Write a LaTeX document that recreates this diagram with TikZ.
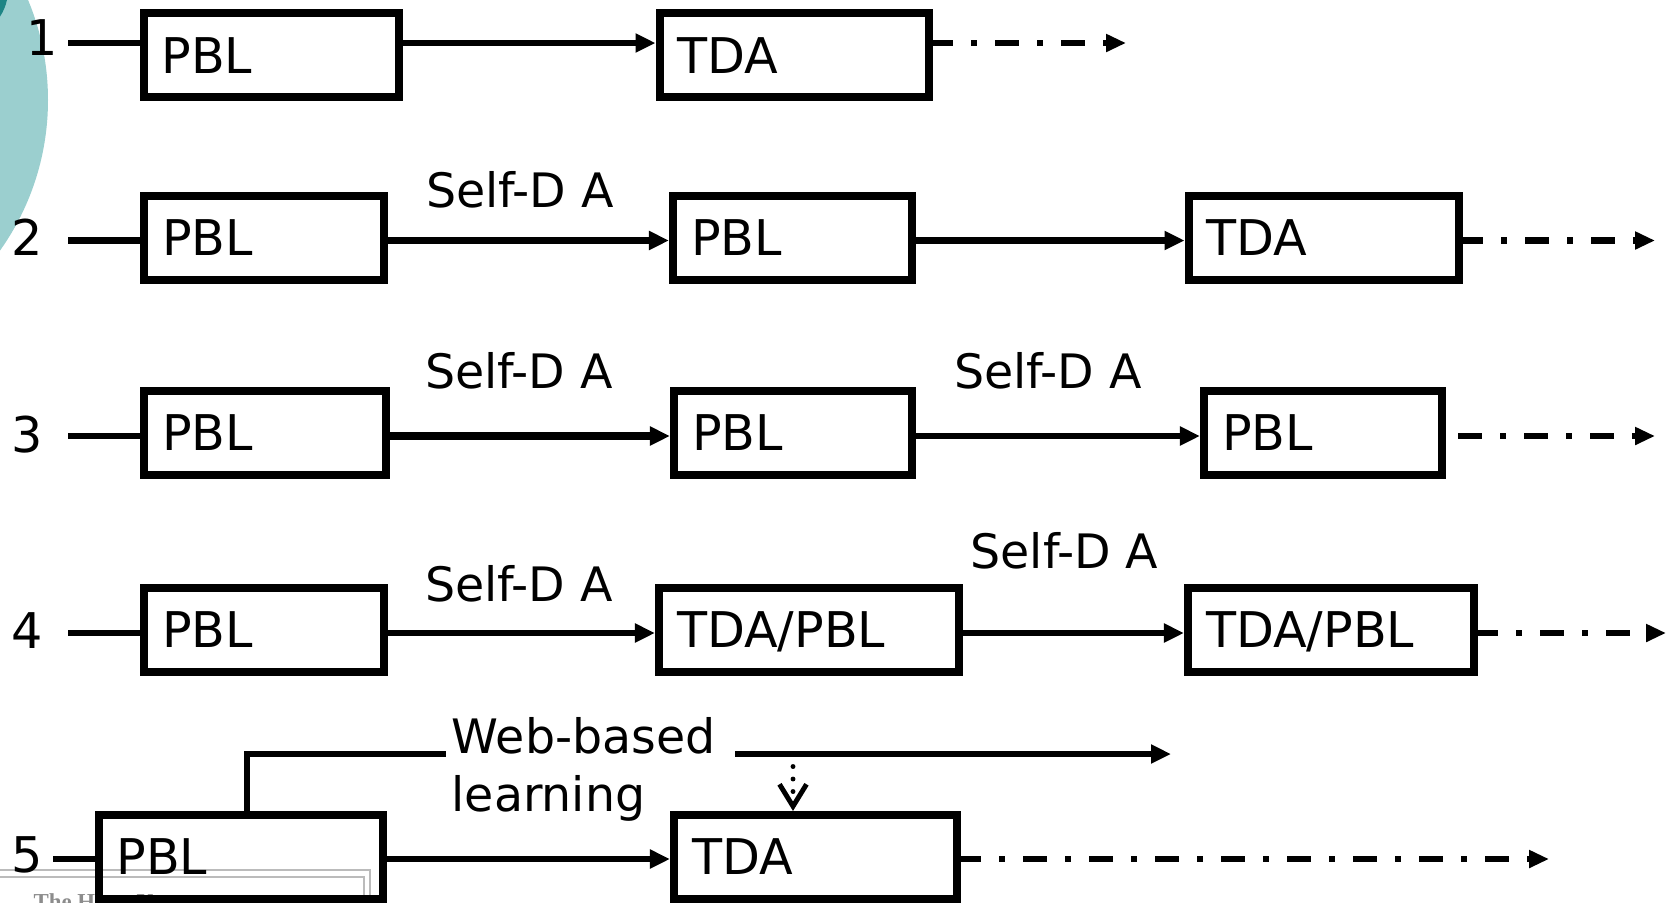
\documentclass[tikz,border=0pt]{standalone}
\usepackage{fontspec}
\setsansfont{DejaVu Sans}
\newfontfamily\logofont{Liberation Serif}
\usetikzlibrary{arrows.meta}
\definecolor{Teal}{HTML}{9BCFCF}
\definecolor{TealDark}{HTML}{1E8585}
\definecolor{LogoGray}{HTML}{BBBBBB}
\newcommand{\boxfont}{\sffamily\fontsize{14}{16.8}\selectfont}
\newcommand{\lblfont}{\sffamily\fontsize{13.5}{16.5}\selectfont}

\begin{document}
\begin{tikzpicture}[x=1cm,y=1cm,
  stage/.style={draw,line width=2.3pt,inner xsep=0.18cm,inner ysep=0pt,minimum height=0.84cm,
    text height=10.2pt,text depth=0pt,align=left,font=\boxfont},
  lead/.style={line width=1.85pt},
  flow/.style={line width=1.85pt,-{Triangle[length=0.2cm,width=0.18cm]}},
  onward/.style={line width=1.9pt,dash pattern=on 0.24cm off 0.18cm on 0.06cm off 0.18cm,
    -{Triangle[length=0.2cm,width=0.17cm]}},
  rowno/.style={anchor=base,inner sep=0pt,font=\boxfont},
  sda/.style={anchor=base,inner sep=0pt,font=\lblfont}]
\useasboundingbox (0,0) rectangle (16.69,9.02);
\fill[Teal] (-2.12,8.02) circle (2.60);
\fill[TealDark] (-0.40,9.12) circle (0.48);
% logo strip, bottom left
\draw[LogoGray,line width=0.7pt] (0,0.32) -- (3.70,0.32) -- (3.70,-0.1);
\draw[LogoGray,line width=0.7pt] (0,0.25) -- (3.64,0.25) -- (3.64,-0.1);
\node[anchor=base west,inner sep=0pt,text=LogoGray!75!black,font=\logofont\bfseries\fontsize{6.5}{7}\selectfont] (logo) at (0.33,-0.07) {The Hong Kong};
% row 1
\coordinate (r1) at (0.68,8.59);
\coordinate (e1) at (11.26,8.59);
\node[rowno] (n1) at (0.42,8.47) {1};
\node[stage,text width=2.195cm] (pbl1) at (2.713,8.468) {PBL};
\node[stage,text width=2.335cm] (tda1) at (7.943,8.468) {TDA};
\draw[lead] (r1) -- (r1 -| pbl1.west);
\draw[flow] (r1 -| pbl1.east) -- (r1 -| tda1.west);
\draw[onward,dash phase=0.04cm] (r1 -| tda1.east) -- (e1);
% row 2
\coordinate (r2) at (0.68,6.615);
\coordinate (e2) at (16.55,6.615);
\node[rowno] (n2) at (0.27,6.47) {2};
\node[stage,text width=2.04cm] (pbl2a) at (2.64,6.643) {PBL};
\node[stage,text width=2.03cm] (pbl2b) at (7.925,6.643) {PBL};
\node[stage,text width=2.345cm] (tda2) at (13.238,6.643) {TDA};
\node[sda] (sda2) at (5.20,6.95) {Self-D A};
\draw[lead] (r2) -- (r2 -| pbl2a.west);
\draw[flow] (r2 -| pbl2a.east) -- (r2 -| pbl2b.west);
\draw[flow] (r2 -| pbl2b.east) -- (r2 -| tda2.west);
\draw[onward,dash phase=0.04cm] (r2 -| tda2.east) -- (e2);
% row 3
\coordinate (r3) at (0.68,4.66);
\coordinate (e3) at (16.55,4.66);
\node[rowno] (n3) at (0.27,4.50) {3};
\node[stage,text width=2.06cm] (pbl3a) at (2.65,4.69) {PBL};
\node[stage,text width=2.02cm] (pbl3b) at (7.93,4.69) {PBL};
\node[stage,text width=2.02cm] (pbl3c) at (13.23,4.69) {PBL};
\node[sda] (sda3a) at (5.19,5.14) {Self-D A};
\node[sda] (sda3b) at (10.48,5.14) {Self-D A};
\draw[lead] (r3) -- (r3 -| pbl3a.west);
\draw[flow,line width=2.35pt] (r3 -| pbl3a.east) -- (r3 -| pbl3b.west);
\draw[flow] (r3 -| pbl3b.east) -- (r3 -| pbl3c.west);
\draw[onward,dash phase=0.54cm] (r3 -| pbl3c.east) -- (e3);
% row 4
\coordinate (r4) at (0.68,2.69);
\coordinate (e4) at (16.66,2.69);
\node[rowno] (n4) at (0.27,2.54) {4};
\node[stage,text width=2.04cm] (pbl4) at (2.64,2.723) {PBL};
\node[stage,text width=2.64cm] (tda4a) at (8.09,2.723) {TDA/PBL};
\node[stage,text width=2.50cm] (tda4b) at (13.31,2.723) {TDA/PBL};
\node[sda] (sda4a) at (5.19,3.01) {Self-D A};
\node[sda] (sda4b) at (10.645,3.34) {Self-D A};
\draw[lead] (r4) -- (r4 -| pbl4.west);
\draw[flow] (r4 -| pbl4.east) -- (r4 -| tda4a.west);
\draw[flow] (r4 -| tda4a.east) -- (r4 -| tda4b.west);
\draw[onward,dash phase=0.04cm] (r4 -| tda4b.east) -- (e4);
% row 5
\coordinate (r5) at (0.53,0.43);
\coordinate (e5) at (15.49,0.43);
\coordinate (wb) at (2.47,1.48);
\coordinate (wbr) at (7.35,1.48);
\coordinate (wbend) at (11.71,1.48);
\coordinate (dsrc) at (7.93,1.48);
\node[rowno] (n5) at (0.27,0.30) {5};
\node[stage,text width=2.485cm] (pbl5) at (2.408,0.45) {PBL};
\node[stage,text width=2.47cm] (tda5) at (8.155,0.45) {TDA};
\node[anchor=north west,inner sep=0.05cm,align=left,font=\lblfont] (web) at (4.46,1.905) {Web-based\\learning};
\draw[lead] (r5) -- (r5 -| pbl5.west);
\draw[flow] (r5 -| pbl5.east) -- (r5 -| tda5.west);
\draw[onward,dash phase=0.04cm] (r5 -| tda5.east) -- (e5);
\draw[line width=1.6pt] (pbl5.north -| wb) -- (wb) -- (wb -| web.west);
\draw[flow,line width=1.6pt] (wbr) -- (wbend);
\draw[line width=1.4pt,line cap=round,dash pattern=on 0pt off 0.125cm,
  -{Straight Barb[length=0.22cm,width=0.27cm]}] (dsrc) -- (dsrc |- tda5.north);
\end{tikzpicture}
\end{document}
